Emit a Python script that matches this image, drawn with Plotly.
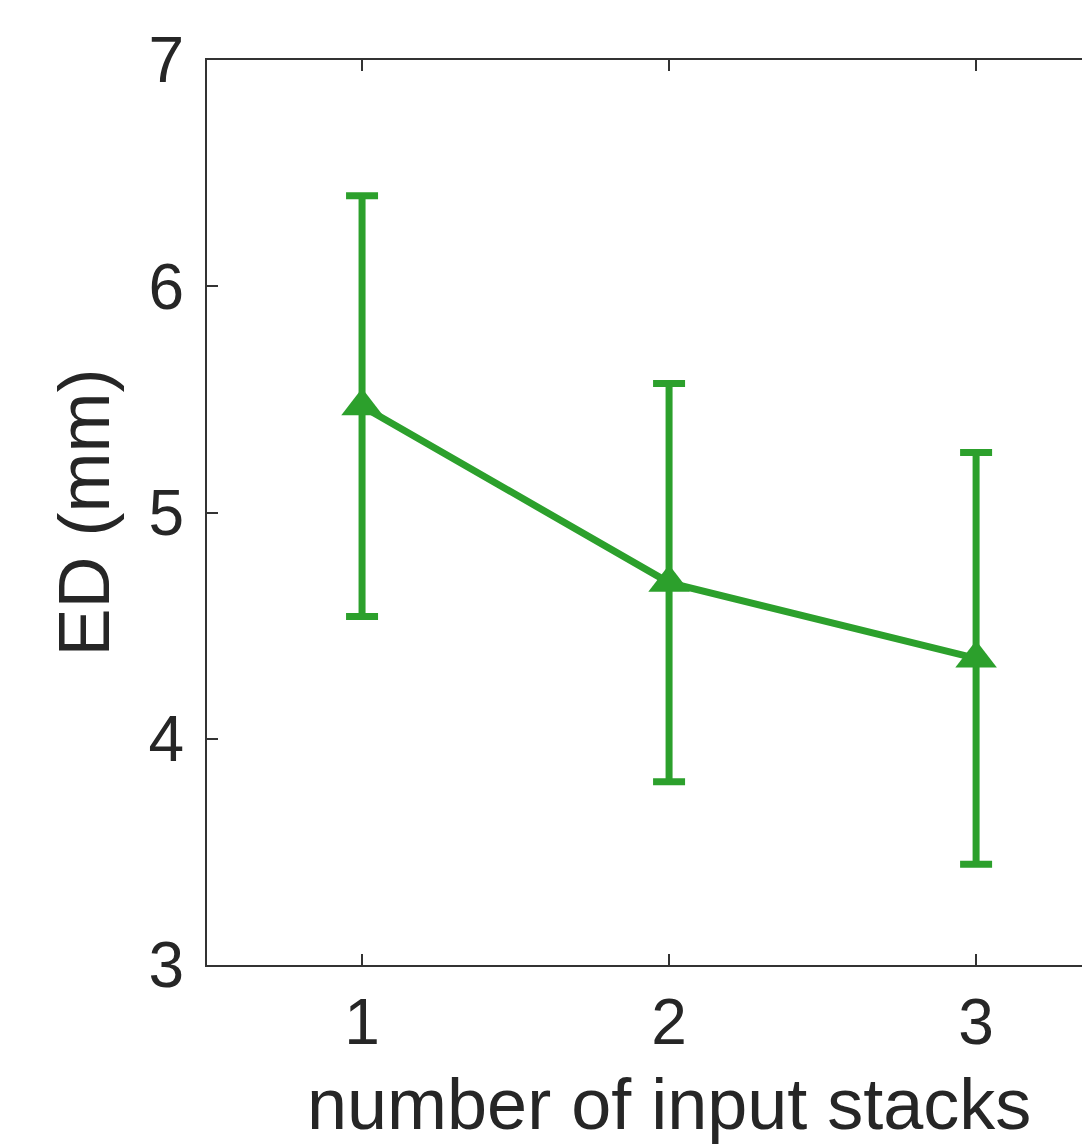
import plotly.graph_objects as go

stacks = [1, 2, 3]
ed_mean = [5.47, 4.69, 4.355]
ed_err = [0.93, 0.88, 0.91]
x_ticks = [1, 2, 3]
y_ticks = [3, 4, 5, 6, 7]

green = "#2ca02c"
axis_col = "#333333"
font_col = "#262626"

fig = go.Figure()
fig.add_trace(go.Scatter(
    x=stacks, y=ed_mean,
    mode="lines+markers",
    line=dict(color=green, width=7),
    marker=dict(symbol="triangle-up", size=36, color=green),
    error_y=dict(type="data", array=ed_err, visible=True,
                 color=green, thickness=7, width=16),
    showlegend=False,
))

fig.update_layout(
    width=1082, height=1137,
    margin=dict(l=199, r=0, t=52, b=180),
    paper_bgcolor="white", plot_bgcolor="white",
    font=dict(family="Liberation Sans, Arial", color=font_col),
)
fig.update_xaxes(
    range=[0.495, 3.371], tickvals=x_ticks, ticktext=[str(v) for v in x_ticks],
    showline=True, linecolor=axis_col, linewidth=2, mirror="ticks",
    ticks="inside", ticklen=11, tickwidth=2, tickcolor=axis_col,
    showgrid=False, zeroline=False,
    tickfont=dict(size=64), ticklabelstandoff=0,
)
fig.add_annotation(
    text="number of input stacks", xref="x", x=2, yref="paper", y=0,
    xanchor="center", yanchor="top", yshift=-97, showarrow=False,
    font=dict(size=72, color=font_col),
)
fig.update_yaxes(
    range=[3, 7], tickvals=y_ticks, ticktext=[str(v) for v in y_ticks],
    showline=True, linecolor=axis_col, linewidth=2, mirror=False,
    ticks="inside", ticklen=11, tickwidth=2, tickcolor=axis_col,
    showgrid=False, zeroline=False,
    tickfont=dict(size=64), ticklabelstandoff=8,
    title=dict(text="ED (mm)", font=dict(size=72), standoff=15),
)

fig.write_html("out.html")
